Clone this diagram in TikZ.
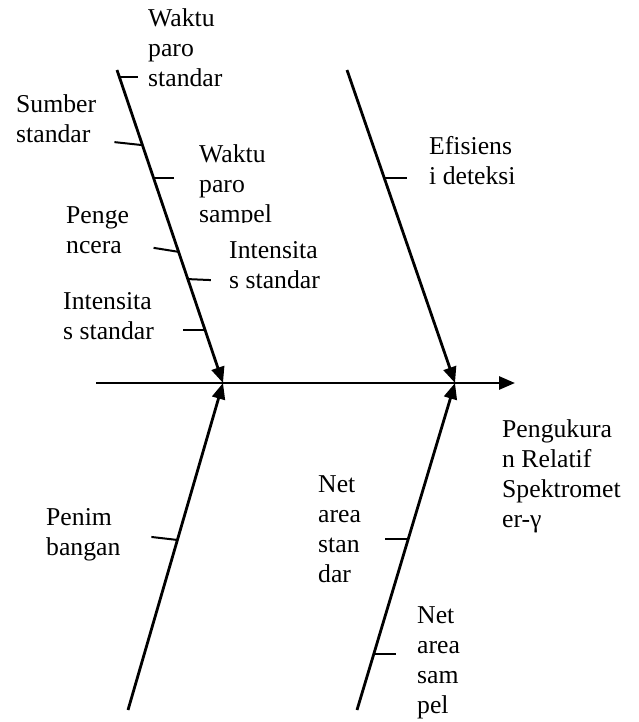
\documentclass[tikz,border=0pt]{standalone}
\usepackage{fontspec}
\setmainfont{Liberation Serif}
\usetikzlibrary{arrows.meta,calc}
\newcommand\mlines[1]{\vtop{\baselineskip=30pt\lineskiplimit=-100pt\lineskip=0pt\halign{##\hfil\cr#1\crcr}}}
\begin{document}
\begin{tikzpicture}[x=1pt,y=-1pt,
  bone/.style={line width=2.8pt},
  bt/.style={line width=2pt},
  tip/.style={-{Triangle[length=16pt,width=13pt]}},
  lbl/.style={inner sep=0pt,anchor=base west,font=\fontsize{25.7}{30}\selectfont}]
\useasboundingbox (0,0) rectangle (639,722);
% spine and bones
\coordinate (ms) at (96,383);
\coordinate (me) at (515,383);
\coordinate (j1) at (223,383);
\coordinate (j2) at (455,383);
\coordinate (lu) at (117,70);
\coordinate (ru) at (347,70);
\coordinate (ll) at (128,710);
\coordinate (rl) at (357,710);
\draw[bone,tip] (ms) -- (me);
\draw[bone,tip] (lu) -- (j1);
\draw[bone,tip] (ru) -- (j2);
\draw[bone,tip] (ll) -- (j1);
\draw[bone,tip] (rl) -- (j2);
% ticks on upper left bone
\coordinate (a1) at ($(lu)!0.022!(j1)$);
\coordinate (a2) at ($(lu)!0.240!(j1)$);
\coordinate (a3) at ($(lu)!0.345!(j1)$);
\coordinate (a4) at ($(lu)!0.581!(j1)$);
\coordinate (a5) at ($(lu)!0.668!(j1)$);
\coordinate (a6) at ($(lu)!0.831!(j1)$);
\draw[bt] (a1) -- ++(19,0);
\draw[bt] (a2) -- ++(-28,-3);
\draw[bt] (a3) -- ++(20,0);
\draw[bt] (a4) -- ++(-25,-4);
\draw[bt] (a5) -- ++(23,1);
\draw[bt] (a6) -- ++(-22,0);
% tick on upper right bone
\coordinate (b1) at ($(ru)!0.345!(j2)$);
\draw[bt] (b1) -- ++(23,0);
% tick on lower left bone
\coordinate (c1) at ($(ll)!0.52!(j1)$);
\draw[bt] (c1) -- ++(-26,-3);
% ticks on lower right bone
\coordinate (d1) at ($(rl)!0.523!(j2)$);
\coordinate (d2) at ($(rl)!0.171!(j2)$);
\draw[bt] (d1) -- ++(-23,0);
\draw[bt] (d2) -- ++(22,0);
% labels
\node[lbl] (wps) at (148,27) {\mlines{Waktu\cr paro\cr standar}};
\node[lbl] (ss) at (16,113) {\mlines{Sumber\cr standar}};
\begin{scope}
  \clip (190,140) rectangle (320,222);
  \node[lbl] (wpsam) at (199,163) {\mlines{Waktu\cr paro\cr sampel}};
\end{scope}
\node[lbl] (pen) at (66,223) {\mlines{Penge\cr ncera}};
\node[lbl] (isr) at (229,258) {\mlines{Intensita\cr s standar}};
\node[lbl] (isl) at (63,309) {\mlines{Intensita\cr s standar}};
\node[lbl] (efd) at (429,155) {\mlines{Efisiens\cr i deteksi}};
\node[lbl] (pb) at (46,525) {\mlines{Penim\cr bangan}};
\node[lbl] (nas) at (318,492) {\mlines{Net\cr area\cr stan\cr dar}};
\node[lbl] (nasp) at (417,623) {\mlines{Net\cr area\cr sam\cr pel}};
\node[lbl] (out) at (502,437) {\mlines{Pengukura\cr n Relatif\cr Spektromet\cr er-γ}};
\end{tikzpicture}
\end{document}
